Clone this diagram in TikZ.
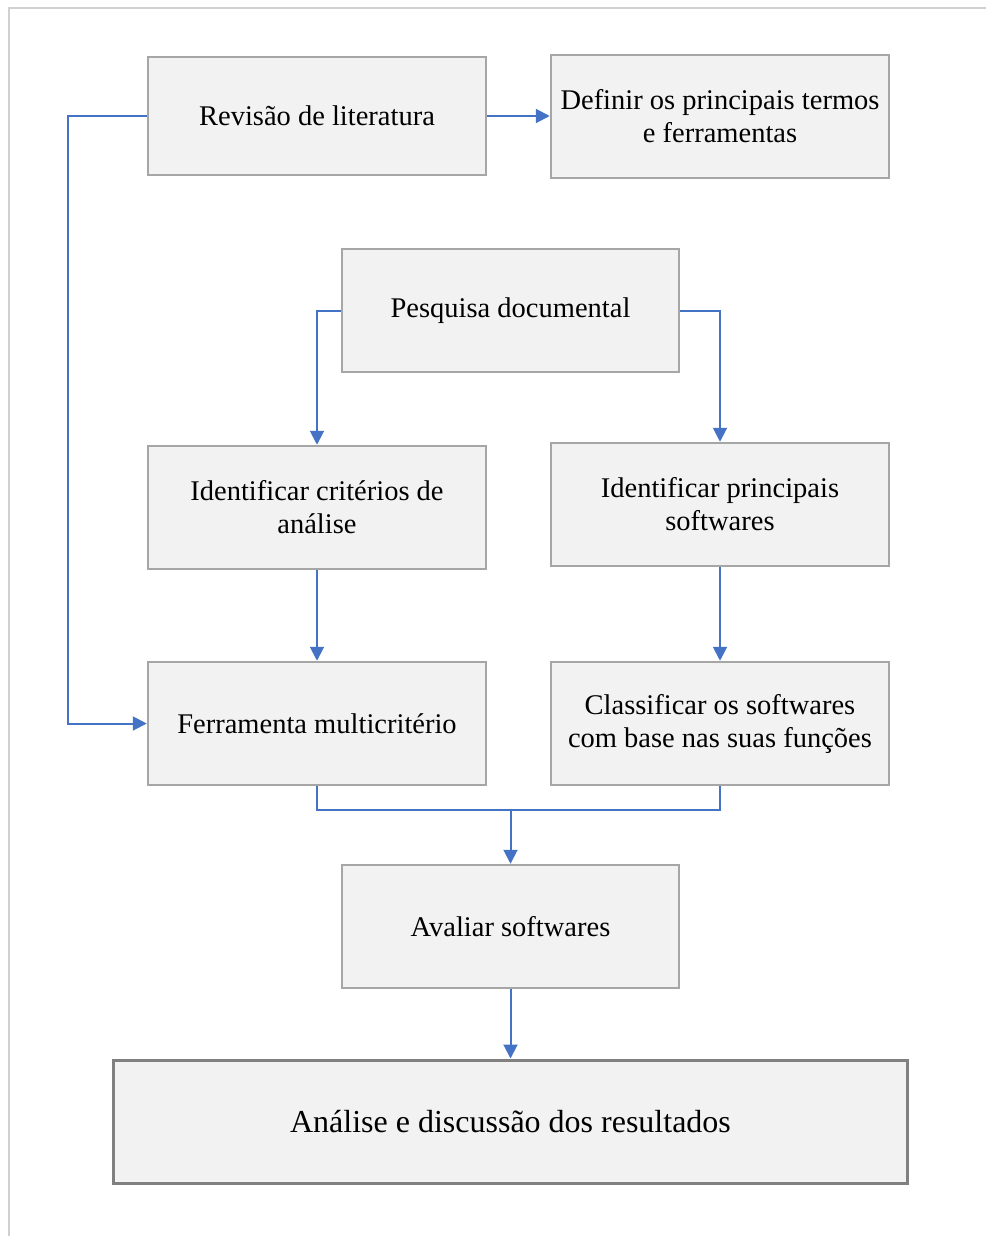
\documentclass[tikz,border=0pt]{standalone}
\usepackage{fontspec}
\setmainfont{Liberation Serif}
\usetikzlibrary{arrows.meta}
\definecolor{boxfill}{HTML}{F2F2F2}
\definecolor{boxline}{HTML}{A6A6A6}
\definecolor{boxdark}{HTML}{808080}
\definecolor{flow}{HTML}{4472C4}
\definecolor{frame}{HTML}{D0D0D0}
\begin{document}
\begin{tikzpicture}[x=1pt,y=-1pt,
  stepbox/.style={draw=boxline, fill=boxfill, line width=2.5pt,
    minimum width=338pt, minimum height=123pt, inner sep=0pt,
    align=center, font=\fontsize{28.5}{33}\selectfont},
  finalbox/.style={stepbox, draw=boxdark, line width=3pt,
    minimum width=794pt, font=\fontsize{32}{38}\selectfont},
  flowline/.style={draw=flow, line width=2pt},
  flowarrow/.style={flowline, -{Triangle[length=14pt,width=14pt]}}]
  \useasboundingbox (0,0) rectangle (986,1236);
  % page frame
  \draw[frame, line width=1.5pt] (9,1236) -- (9,8) -- (986,8);

  % boxes
  \node[stepbox, minimum height=118pt] (rev) at (317,116) {Revisão de literatura};
  \node[stepbox] (def) at (720,116.5) {Definir os principais termos\\e ferramentas};
  \node[stepbox, minimum width=337pt] (pes) at (510.5,310.5) {Pesquisa documental};
  \node[stepbox] (crit) at (317,507.5) {Identificar critérios de\\análise};
  \node[stepbox] (soft) at (720,504.5) {Identificar principais\\softwares};
  \node[stepbox] (ferr) at (317,723.5) {Ferramenta multicritério};
  \node[stepbox] (clas) at (720,723.5) {Classificar os softwares\\com base nas suas funções};
  \node[stepbox, minimum width=337pt] (aval) at (510.5,926.5) {Avaliar softwares};
  \node[finalbox] (anal) at (510.5,1121.5) {Análise e discussão dos resultados};

  % connectors
  \coordinate (leftrail) at (68,116);
  \coordinate (merge) at (510.5,810);
  \draw[flowarrow] (rev.east) -- (def.west |- rev.east);
  \draw[flowarrow] (rev.west) -- (leftrail) |- (ferr.west);
  \draw[flowarrow] (pes.west) -| (crit.north);
  \draw[flowarrow] (pes.east) -| (soft.north);
  \draw[flowarrow] (crit.south) -- (ferr.north);
  \draw[flowarrow] (soft.south) -- (clas.north);
  \draw[flowline] (ferr.south) |- (merge) -| (clas.south);
  \draw[flowarrow] (merge) -- (aval.north);
  \draw[flowarrow] (aval.south) -- (anal.north);
\end{tikzpicture}
\end{document}
